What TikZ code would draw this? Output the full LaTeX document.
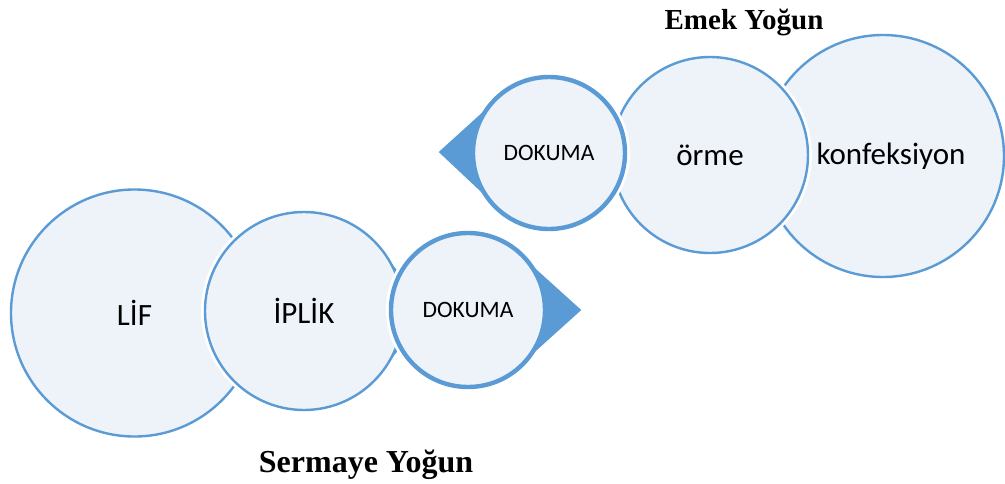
\documentclass[tikz,border=0pt]{standalone}
\usepackage{fontspec}
\setmainfont{Carlito}
\newfontfamily\titlefont{Liberation Serif}
\definecolor{sablue}{RGB}{91,155,213}
\definecolor{salight}{RGB}{238,243,250}
\begin{document}
\begin{tikzpicture}[x=1pt,y=-1pt,
  bub/.style={circle, draw=sablue, fill=salight, line width=2.4pt, inner sep=0pt,
    font=\fontsize{31}{36}\selectfont},
  haloed/.style={preaction={draw=white, line width=6.4pt}},
  thick bub/.style={bub, line width=4.4pt, font=\fontsize{23.5}{28}\selectfont},
  wedge/.style={fill=sablue, draw=white, line width=2pt, line join=round},
  halo/.style={fill=white},
  title/.style={font=\titlefont\bfseries\fontsize{29}{34}\selectfont, anchor=base}]
\useasboundingbox (0,0) rectangle (1005,483);
% bottom row
\node[bub, haloed, minimum size=247pt] (lif) at (134.5,313) {LİF};
\coordinate (iplikTip) at (432,311);
\fill[halo] (304,311) circle[radius=103pt];
\fill[wedge] (iplikTip) -- (380.5,248.2) -- (380.5,373.8) -- cycle;
\node[bub, minimum size=198pt] (iplik) at (304,311) {İPLİK};
\coordinate (dokATip) at (583,310);
\fill[halo] (468,310) circle[radius=82pt];
\fill[wedge] (dokATip) -- (519.6,252.8) -- (519.6,367.2) -- cycle;
\node[thick bub, minimum size=154pt] (dokA) at (468,310) {DOKUMA};
% top row
\node[bub, haloed, minimum size=242pt] (konf) at (883,156) {\hspace*{16pt}konfeksiyon};
\coordinate (ormeTip) at (595,155);
\fill[halo] (710,155) circle[radius=102pt];
\fill[wedge] (ormeTip) -- (626.5,103.7) -- (626.5,206.3) -- cycle;
\node[bub, minimum size=196pt] (orme) at (710,155) {örme};
\coordinate (dokBTip) at (437,152);
\fill[halo] (549,153) circle[radius=81pt];
\fill[wedge] (dokBTip) -- (497.4,97.2) -- (497.4,208.8) -- cycle;
\node[thick bub, minimum size=152pt] (dokB) at (549,153) {DOKUMA};
% titles
\node[title] (emek) at (744,29) {Emek Yoğun};
\node[title, font=\titlefont\bfseries\fontsize{32}{36}\selectfont] (sermaye) at (366,472) {Sermaye Yoğun};
\end{tikzpicture}
\end{document}
